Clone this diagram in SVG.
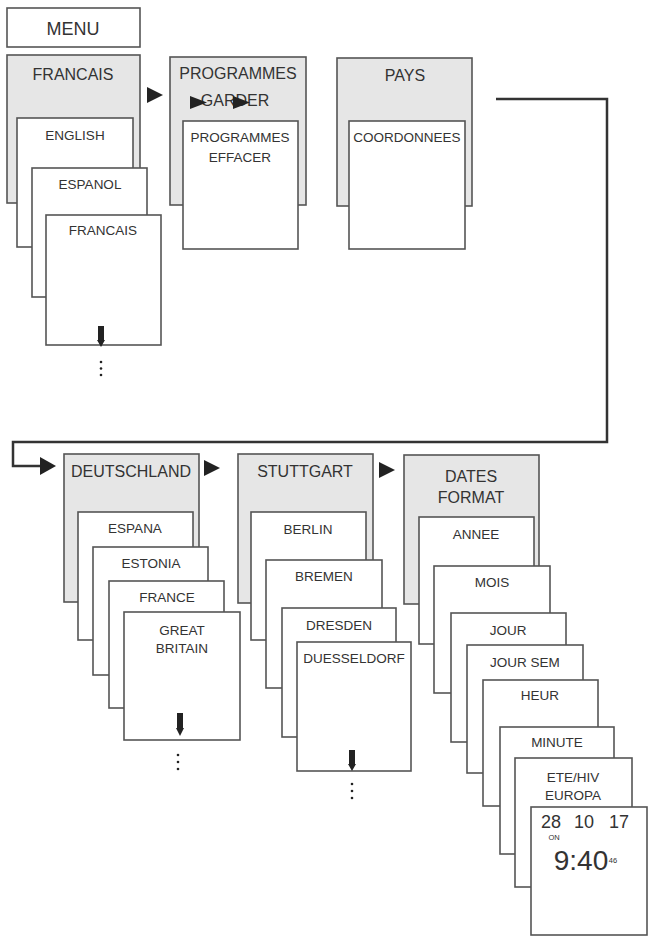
<svg xmlns="http://www.w3.org/2000/svg" width="651" height="937" viewBox="0 0 651 937">
<style>
.g{fill:#e6e6e6;stroke:#555;stroke-width:1.6}
.w{fill:#fff;stroke:#555;stroke-width:1.6}
.t{font-family:"Liberation Sans",Arial,sans-serif;font-size:16px;fill:#333;text-anchor:middle}
.s{font-family:"Liberation Sans",Arial,sans-serif;font-size:13.5px;fill:#333;text-anchor:middle}
.a{fill:#222}
.conn{fill:none;stroke:#333;stroke-width:2.5}
</style>
<defs>
<marker id="tri" viewBox="0 0 16 18" refX="0" refY="9" markerWidth="16" markerHeight="18" markerUnits="userSpaceOnUse" orient="auto">
<path d="M0,0 L16,9 L0,18 Z" fill="#222"/>
</marker>
</defs>
<rect width="651" height="937" fill="#fff"/>

<g id="menu"><rect class="w" x="7" y="8" width="133" height="39"/><text class="t" x="73" y="35" style="font-size:18px">MENU</text></g>

<g id="francais-top"><rect class="g" x="7" y="55" width="133" height="148"/><text class="t" x="73" y="80">FRANCAIS</text></g>
<g id="english"><rect class="w" x="17" y="118" width="116" height="129"/><text class="s" x="75" y="140">ENGLISH</text></g>
<g id="espanol"><rect class="w" x="32" y="168" width="115" height="129"/><text class="s" x="90" y="189">ESPANOL</text></g>
<g id="francais"><rect class="w" x="46" y="215" width="115" height="130"/><text class="s" x="103" y="235">FRANCAIS</text>
<polygon class="a" points="98,326 104,326 104,340 105,340 101,347 97,340 98,340"/>
<circle class="a" cx="101" cy="362" r="1.3"/><circle class="a" cx="101" cy="368.5" r="1.3"/><circle class="a" cx="101" cy="375" r="1.3"/></g>

<g id="prog-garder"><rect class="g" x="170" y="57" width="136" height="148"/><text class="t" x="238" y="79">PROGRAMMES</text><text class="t" x="235" y="106">GARDER</text>
<polygon class="a" points="190,96 207,102.5 190,109"/><polygon class="a" points="233,96 250,102.5 233,109"/></g>
<g id="prog-effacer"><rect class="w" x="183" y="121" width="115" height="128"/><text class="s" x="240" y="142">PROGRAMMES</text><text class="s" x="240" y="162">EFFACER</text></g>

<g id="pays"><rect class="g" x="337" y="58" width="135" height="148"/><text class="t" x="405" y="81">PAYS</text></g>
<g id="coordonnees"><rect class="w" x="349" y="121" width="116" height="128"/><text class="s" x="407" y="142">COORDONNEES</text></g>

<g id="deutschland"><rect class="g" x="64" y="454" width="135" height="148"/><text class="t" x="131" y="477">DEUTSCHLAND</text></g>
<g id="espana"><rect class="w" x="78" y="512" width="115" height="128"/><text class="s" x="135" y="533">ESPANA</text></g>
<g id="estonia"><rect class="w" x="93" y="547" width="115" height="128"/><text class="s" x="151" y="568">ESTONIA</text></g>
<g id="france"><rect class="w" x="109" y="581" width="115" height="127"/><text class="s" x="167" y="602">FRANCE</text></g>
<g id="great-britain"><rect class="w" x="124" y="612" width="116" height="128"/><text class="s" x="182" y="635">GREAT</text><text class="s" x="182" y="653">BRITAIN</text>
<polygon class="a" points="177,713 183,713 183,728 184,728 180,736 176,728 177,728"/>
<circle class="a" cx="178" cy="755" r="1.3"/><circle class="a" cx="178" cy="762" r="1.3"/><circle class="a" cx="178" cy="769" r="1.3"/></g>

<g id="stuttgart"><rect class="g" x="238" y="454" width="135" height="149"/><text class="t" x="305" y="477">STUTTGART</text></g>
<g id="berlin"><rect class="w" x="251" y="512" width="115" height="128"/><text class="s" x="308" y="534">BERLIN</text></g>
<g id="bremen"><rect class="w" x="266" y="560" width="116" height="128"/><text class="s" x="324" y="581">BREMEN</text></g>
<g id="dresden"><rect class="w" x="282" y="608" width="114" height="129"/><text class="s" x="339" y="630">DRESDEN</text></g>
<g id="duesseldorf"><rect class="w" x="297" y="642" width="114" height="129"/><text class="s" x="354" y="663">DUESSELDORF</text>
<polygon class="a" points="349,750 355,750 355,764 356,764 352,771 348,764 349,764"/>
<circle class="a" cx="352" cy="784" r="1.3"/><circle class="a" cx="352" cy="791" r="1.3"/><circle class="a" cx="352" cy="798" r="1.3"/></g>

<g id="dates-format"><rect class="g" x="404" y="455" width="135" height="149"/><text class="t" x="471" y="482">DATES</text><text class="t" x="471" y="503">FORMAT</text></g>
<g id="annee"><rect class="w" x="419" y="517" width="115" height="127"/><text class="s" x="476" y="539">ANNEE</text></g>
<g id="mois"><rect class="w" x="434" y="566" width="116" height="127"/><text class="s" x="492" y="587">MOIS</text></g>
<g id="jour"><rect class="w" x="451" y="613" width="115" height="129"/><text class="s" x="508" y="635">JOUR</text></g>
<g id="jour-sem"><rect class="w" x="467" y="645" width="116" height="128"/><text class="s" x="525" y="667">JOUR SEM</text></g>
<g id="heur"><rect class="w" x="483" y="680" width="115" height="126"/><text class="s" x="540" y="700">HEUR</text></g>
<g id="minute"><rect class="w" x="500" y="727" width="114" height="127"/><text class="s" x="557" y="747">MINUTE</text></g>
<g id="ete-hiv"><rect class="w" x="515" y="758" width="117" height="129"/><text class="s" x="573" y="782">ETE/HIV</text><text class="s" x="573" y="800">EUROPA</text></g>
<g id="display"><rect class="w" x="531" y="807" width="116" height="128"/>
<text class="s" x="551" y="828" style="font-size:18px">28</text><text class="s" x="584" y="828" style="font-size:18px">10</text><text class="s" x="619" y="828" style="font-size:18px">17</text>
<text class="s" x="554" y="840" style="font-size:7.5px">ON</text>
<text class="s" x="581" y="870" style="font-size:28px">9:40</text>
<text class="s" x="613" y="863" style="font-size:7.5px">46</text></g>

<g id="connectors">
<polygon class="a" points="147,87 163,95 147,103"/>
<polyline class="conn" points="496,99 607,99 607,442 13,442 13,466 40,466" marker-end="url(#tri)"/>
<polygon class="a" points="204,460 220,468 204,476"/>
<polygon class="a" points="379,462 395,470 379,478"/>
</g>
</svg>
